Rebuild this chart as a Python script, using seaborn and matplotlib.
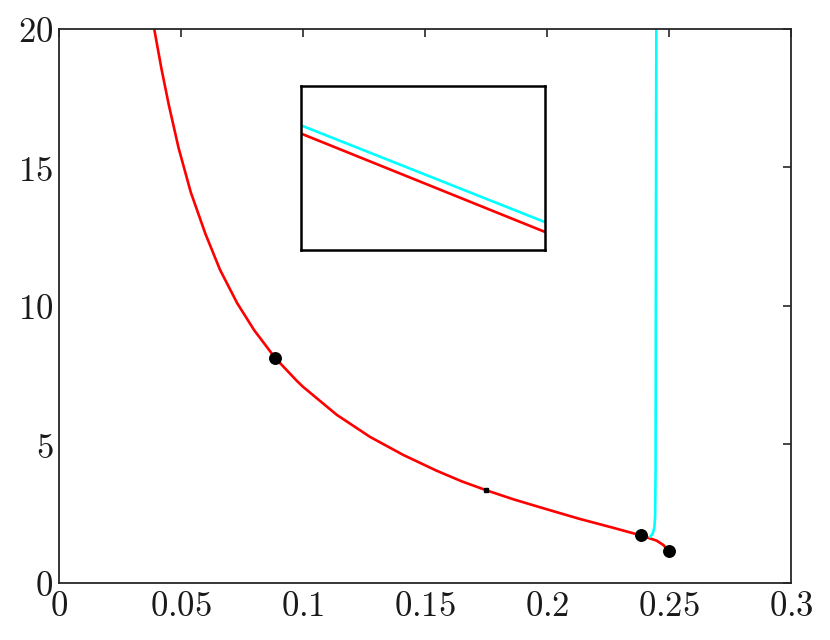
import matplotlib
matplotlib.use("Agg")
import matplotlib.pyplot as plt
import seaborn as sns
import pandas as pd
from matplotlib.ticker import FuncFormatter

# ---- data ----
red_x = [0.0390, 0.0420, 0.0450, 0.0490, 0.0540, 0.0600, 0.0660, 0.0730, 0.0800,
         0.0885, 0.0974, 0.1000, 0.1138, 0.1275, 0.1411, 0.1548, 0.1650, 0.1750,
         0.1862, 0.1999, 0.2135, 0.2272, 0.2384, 0.2449, 0.2477, 0.2499]
red_y = [20.00, 18.55, 17.25, 15.70, 14.10, 12.60, 11.30, 10.10, 9.12,
         8.13, 7.30, 7.08, 6.07, 5.27, 4.62, 4.05, 3.67, 3.35,
         3.02, 2.66, 2.31, 1.99, 1.72, 1.53, 1.37, 1.16]

cyan_x = [0.2422, 0.2433, 0.2440, 0.2443, 0.2445, 0.2446, 0.2448]
cyan_y = [1.66, 1.78, 2.00, 2.40, 4.00, 10.0, 20.0]

dot_x = [0.0885, 0.2384, 0.2499]
dot_y = [8.13, 1.72, 1.16]

square_x = [0.1750]
square_y = [3.35]

inset_x = [0.0, 1.0]
inset_cyan_y = [0.76, 0.17]
inset_red_y = [0.71, 0.11]

x_ticks = [0, 0.05, 0.1, 0.15, 0.2, 0.25, 0.3]
y_ticks = [0, 5, 10, 15, 20]

# ---- style ----
sns.set_theme(style="white")
plt.rcParams["mathtext.fontset"] = "cm"
plt.rcParams["font.family"] = ["DejaVu Serif"]

fig = plt.figure(figsize=(8.3, 6.4), dpi=100)
ax = fig.add_axes([59 / 830, 1 - 583 / 640, (791 - 59) / 830, (583 - 28.7) / 640])

red_df = pd.DataFrame({"x": red_x, "y": red_y})
cyan_df = pd.DataFrame({"x": cyan_x, "y": cyan_y})
sns.lineplot(data=red_df, x="x", y="y", sort=False, estimator=None,
             color="#ff0000", linewidth=1.9, ax=ax)
sns.lineplot(data=cyan_df, x="x", y="y", sort=False, estimator=None,
             color="#00ffff", linewidth=1.9, ax=ax)
ax.plot(dot_x, dot_y, "o", color="black", markersize=8.3, zorder=5)
ax.plot(square_x, square_y, "s", color="black", markersize=3.4, zorder=5)

ax.set_xlim(0, 0.3)
ax.set_ylim(0, 20)
ax.set_xticks(x_ticks)
ax.set_yticks(y_ticks)
fmt = FuncFormatter(lambda v, p: "$%g$" % v)
ax.xaxis.set_major_formatter(fmt)
ax.yaxis.set_major_formatter(fmt)
ax.set_xlabel("")
ax.set_ylabel("")
ax.tick_params(direction="in", length=6, width=1.2, color="#262626",
               top=True, right=True, labelsize=25, pad=4, labelcolor="#1a1a1a")
for s in ax.spines.values():
    s.set_color("#262626")
    s.set_linewidth(1.3)
    s.set_visible(True)

# ---- inset ----
ins = fig.add_axes([301 / 830, 1 - 250 / 640, (545 - 301) / 830, (250 - 86) / 640])
ins_df = pd.DataFrame({"x": inset_x * 2,
                       "y": inset_cyan_y + inset_red_y,
                       "s": ["c", "c", "r", "r"]})
sns.lineplot(data=ins_df, x="x", y="y", hue="s", palette={"c": "#00ffff", "r": "#ff0000"},
             sort=False, estimator=None, linewidth=1.9, legend=False, ax=ins)
ins.set_xlim(0, 1)
ins.set_ylim(0, 1)
ins.set_xticks([])
ins.set_yticks([])
ins.set_xlabel("")
ins.set_ylabel("")
for s in ins.spines.values():
    s.set_color("black")
    s.set_linewidth(1.8)
    s.set_visible(True)

fig.savefig("out.png", dpi=100)
